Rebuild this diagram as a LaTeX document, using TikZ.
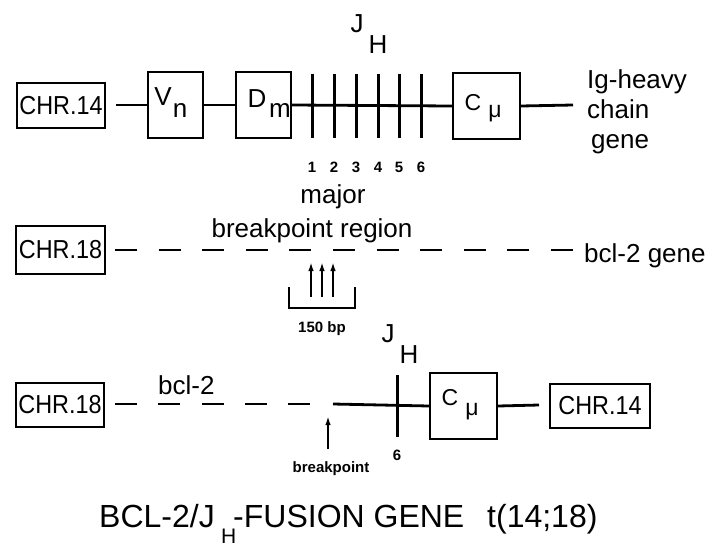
\documentclass[tikz,border=0pt]{standalone}
\usepackage{fontspec}
\setmainfont{Liberation Sans}
\usetikzlibrary{arrows.meta}
\newcommand\fsBig{\fontsize{26}{30}\selectfont}
\newcommand\fsChr{\fontsize{26}{30}\selectfont}
\newcommand\fsText{\fontsize{26}{30}\selectfont}
\newcommand\fsCmu{\fontsize{23}{26}\selectfont}
\newcommand\fsSmall{\bfseries\fontsize{15}{17}\selectfont}
\newcommand\fsTitle{\fontsize{32}{36}\selectfont}
\newcommand\chrtext[1]{\scalebox{0.9}[1]{#1}}
\begin{document}
\begin{tikzpicture}[x=1pt,y=-1pt,
  genebox/.style={draw,line width=1.8pt,inner sep=0pt,rectangle},
  lbl/.style={inner sep=0pt,anchor=base,font=\fsBig},
  gline/.style={line width=2.8pt},
  jtick/.style={line width=3pt},
  uparrow/.style={line width=2.4pt,-{Latex[length=9pt,width=5.5pt]}}]
\useasboundingbox[fill=white] (0,0) rectangle (719,546);

% ---------- row 1: Ig-heavy chain gene ----------
\node[genebox,minimum width=88pt,minimum height=45pt,font=\fsChr] (chrA) at (61,105.5) {\chrtext{CHR.14}};
\node[genebox,minimum width=55pt,minimum height=66pt] (vn) at (175.5,105) {};
\node[lbl] (vV) at (163,105) {V};
\node[lbl] (vN) at (180,117) {n};
\node[genebox,minimum width=55pt,minimum height=66pt] (dm) at (263.5,105) {};
\node[lbl] (dD) at (257,107) {D};
\node[lbl] (dM) at (280,117) {m};
\node[genebox,minimum width=67pt,minimum height=66pt] (cmuA) at (486.5,106) {};
\node[lbl,font=\fsCmu] (cC) at (473,110) {C};
\node[lbl,font=\fsCmu] (cMu) at (495,117) {μ};
\coordinate (r1s) at (116,105);
\coordinate (r1e) at (573,105);
\draw[gline] (r1s) -- (vn.west);
\draw[gline] (vn.east) -- (dm.west);
\draw[gline] (dm.east) -- (cmuA.west);
\draw[gline] (cmuA.east) -- (r1e);
\foreach \x/\n in {312/1,334/2,356/3,378/4,399/5,421/6}{
  \coordinate (jt\n) at (\x,74);
  \coordinate (jb\n) at (\x,138);
  \draw[jtick] (jt\n) -- (jb\n);
  \node[lbl,font=\fsSmall] (jn\n) at (\x,172) {\n};
}
\node[lbl] (jJ) at (357,32) {J};
\node[lbl] (jH) at (378,53) {H};
\node[inner sep=0pt,anchor=base west,font=\fsText] (igA) at (587,88) {Ig-heavy};
\node[inner sep=0pt,anchor=base west,font=\fsText] (igB) at (587,118) {chain};
\node[inner sep=0pt,anchor=base west,font=\fsText] (igC) at (591,148) {gene};
\node[lbl,font=\fsText] (major) at (333,203) {major};
\node[lbl,font=\fsText] (bpr) at (312,237) {breakpoint region};

% ---------- row 2: bcl-2 gene ----------
\node[genebox,minimum width=89pt,minimum height=48pt,font=\fsChr] (chrB) at (60.5,250) {\chrtext{CHR.18}};
\coordinate (r2s) at (115,250);
\coordinate (r2e) at (573,250);
\draw[gline,dash pattern=on 22pt off 21.6pt] (r2s) -- (r2e);
\node[inner sep=0pt,anchor=base west,font=\fsText] (bclg) at (584,262) {bcl-2 gene};
\foreach \x/\n in {311/1,322/2,333/3}{
  \coordinate (at\n) at (\x,262);
  \coordinate (ab\n) at (\x,297);
  \draw[uparrow] (ab\n) -- (at\n);
}
\coordinate (brA) at (289,287);
\coordinate (brB) at (289,308);
\coordinate (brC) at (355,308);
\coordinate (brD) at (355,287);
\draw[line width=1.4pt] (brA) -- (brB) -- (brC) -- (brD);
\node[lbl,font=\fsSmall] (bp150) at (322,332) {150 bp};

% ---------- row 3: fusion gene ----------
\node[genebox,minimum width=88pt,minimum height=44pt,font=\fsChr] (chrC) at (60,405) {\chrtext{CHR.18}};
\coordinate (r3s) at (115,404);
\coordinate (r3m) at (310,404);
\coordinate (r3j) at (333,404);
\draw[gline,dash pattern=on 22pt off 21.25pt] (r3s) -- (r3m);
\node[genebox,minimum width=67pt,minimum height=66pt] (cmuB) at (463.5,406) {};
\node[lbl,font=\fsCmu] (cC2) at (450,405) {C};
\node[lbl,font=\fsCmu] (cMu2) at (472,415) {μ};
\node[genebox,minimum width=100pt,minimum height=44pt,font=\fsChr] (chrD) at (600,406) {\chrtext{CHR.14}};
\coordinate (r3c) at (539,405);
\draw[gline] (r3j) -- (cmuB.west);
\draw[gline] (cmuB.east) -- (r3c);
\coordinate (jt6b) at (397,375);
\coordinate (jb6b) at (397,437);
\draw[jtick] (jt6b) -- (jb6b);
\node[lbl] (jJ2) at (388,342) {J};
\node[lbl] (jH2) at (409,363) {H};
\node[lbl,font=\fsSmall] (six) at (397,460) {6};
\node[inner sep=0pt,anchor=base west,font=\fsText] (bcl) at (158,394) {bcl-2};
\coordinate (bpt) at (328,416);
\coordinate (bpb) at (328,449);
\draw[uparrow] (bpb) -- (bpt);
\node[lbl,font=\fsSmall] (bpl) at (331,472) {breakpoint};

% ---------- title ----------
\node[inner sep=0pt,anchor=base west,font=\fsTitle] (tA) at (99,527) {BCL-2/J};
\node[inner sep=0pt,anchor=base west,font=\fontsize{21}{24}\selectfont] (tH) at (221,543) {H};
\node[inner sep=0pt,anchor=base west,font=\fsTitle] (tB) at (233,527) {-FUSION GENE};
\node[inner sep=0pt,anchor=base west,font=\fsTitle] (tC) at (487,527) {t(14;18)};
\end{tikzpicture}
\end{document}
